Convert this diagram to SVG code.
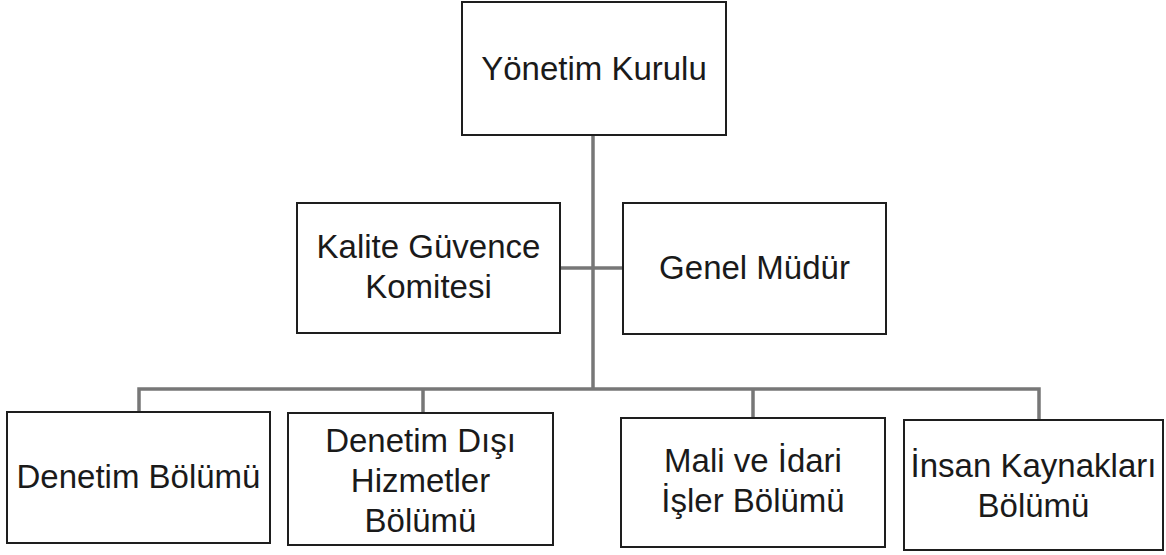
<svg xmlns="http://www.w3.org/2000/svg" width="1166" height="555" viewBox="0 0 1166 555">
<style>
.box{fill:#ffffff;stroke:#1e1e1e;stroke-width:2}
.lbl{font-family:"Liberation Sans",Arial,sans-serif;font-size:33px;fill:#1a1a1a;text-anchor:middle}
.con{stroke:#777777;stroke-width:3.5;fill:none}
</style>
<rect width="1166" height="555" fill="#ffffff"/>
<g id="connectors">
<line class="con" x1="593" y1="135" x2="593" y2="389"/>
<line class="con" x1="560" y1="268" x2="623" y2="268"/>
<polyline class="con" points="139,412 139,389 1039,389 1039,420"/>
<line class="con" x1="423" y1="389" x2="423" y2="413"/>
<line class="con" x1="753" y1="389" x2="753" y2="418"/>
</g>
<g id="yonetim-kurulu">
<rect class="box" x="462" y="2" width="264" height="133"/>
<text class="lbl" x="594" y="80">Yönetim Kurulu</text>
</g>
<g id="kalite-guvence-komitesi">
<rect class="box" x="297" y="203" width="263" height="130"/>
<text class="lbl" x="428.5" y="258">Kalite Güvence</text>
<text class="lbl" x="428.5" y="298">Komitesi</text>
</g>
<g id="genel-mudur">
<rect class="box" x="623" y="203" width="263" height="131"/>
<text class="lbl" x="754.5" y="279">Genel Müdür</text>
</g>
<g id="denetim-bolumu">
<rect class="box" x="7" y="412" width="263" height="131"/>
<text class="lbl" x="138.5" y="488">Denetim Bölümü</text>
</g>
<g id="denetim-disi-hizmetler-bolumu">
<rect class="box" x="288" y="413" width="265" height="132"/>
<text class="lbl" x="420.5" y="452">Denetim Dışı</text>
<text class="lbl" x="420.5" y="492">Hizmetler</text>
<text class="lbl" x="420.5" y="532">Bölümü</text>
</g>
<g id="mali-ve-idari-isler-bolumu">
<rect class="box" x="621" y="418" width="264" height="129"/>
<text class="lbl" x="753" y="472">Mali ve İdari</text>
<text class="lbl" x="753" y="512">İşler Bölümü</text>
</g>
<g id="insan-kaynaklari-bolumu">
<rect class="box" x="904" y="420" width="259" height="130"/>
<text class="lbl" x="1033.5" y="477">İnsan Kaynakları</text>
<text class="lbl" x="1033.5" y="517">Bölümü</text>
</g>
</svg>
